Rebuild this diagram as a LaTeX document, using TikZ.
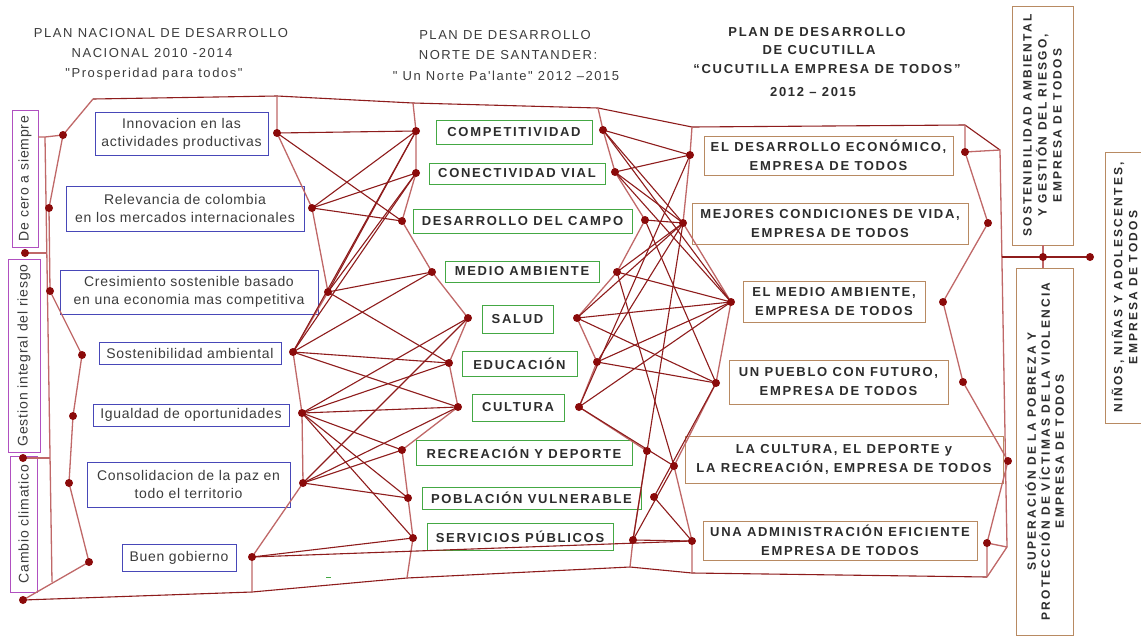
\documentclass[tikz,border=0pt]{standalone}
\usepackage{fontspec}
\setmainfont{Liberation Sans}
\newfontfamily\regsp[LetterSpace=5]{Liberation Sans}
\newfontfamily\purpsp[LetterSpace=6]{Liberation Sans}
\newfontfamily\titsp[LetterSpace=12]{Liberation Sans}
\newfontfamily\boldsp[LetterSpace=13]{Liberation Sans}
\newfontfamily\vertsp[LetterSpace=18]{Liberation Sans}
\definecolor{spinecol}{HTML}{C06868}
\definecolor{linkcol}{HTML}{8E1C1C}
\definecolor{dotcol}{HTML}{8B0A0A}
\definecolor{bluecol}{HTML}{4848B8}
\definecolor{greencol}{HTML}{44A844}
\definecolor{browncol}{HTML}{B88A62}
\definecolor{purpcol}{HTML}{B050C0}
\definecolor{txtgray}{HTML}{3C3C3C}
\definecolor{txtdark}{HTML}{2C2C2C}
\begin{document}
\begin{tikzpicture}[x=1pt,y=-1pt,
  spine/.style={draw=spinecol,line width=1.3pt,line join=round},
  link/.style={draw=linkcol,line width=1.1pt,line join=round},
  dot/.style={circle,fill=dotcol,inner sep=0pt,minimum size=8pt},
  bluebox/.style={draw=bluecol,line width=1pt,inner sep=0pt,align=center,text=txtgray,font=\regsp\fontsize{14}{18}\selectfont},
  purpbox/.style={draw=purpcol,line width=1pt,inner sep=0pt,align=center,text=txtgray,font=\purpsp\fontsize{14}{17}\selectfont,rotate=90},
  greenbox/.style={draw=greencol,line width=1pt,inner sep=0pt,align=center,text=txtdark,font=\boldsp\bfseries\fontsize{13}{16}\selectfont},
  brownbox/.style={draw=browncol,line width=1pt,inner sep=0pt,align=center,text=txtdark,font=\boldsp\bfseries\fontsize{13}{19}\selectfont},
  vertbox/.style={draw=browncol,line width=1pt,inner sep=0pt,align=center,text=txtdark,font=\vertsp\bfseries\fontsize{12}{15}\selectfont,rotate=90},
  verttext/.style={inner sep=0pt,align=center,text=txtdark,font=\vertsp\bfseries\fontsize{12}{15}\selectfont,rotate=90},
  titletext/.style={text=txtgray,inner sep=0pt,font=\titsp\fontsize{13}{16}\selectfont},
  titlebold/.style={text=txtdark,inner sep=0pt,font=\boldsp\bfseries\fontsize{13}{16}\selectfont}]
\useasboundingbox (0,0) rectangle (1141,635);
\fill[white] (0,0) rectangle (1141,635);
\begin{scope}
\clip (0,0) rectangle (1141,635);
% titles
\node[titletext] (t1a) at (161,33) {PLAN NACIONAL DE DESARROLLO};
\node[titletext] (t1b) at (152,53) {NACIONAL 2010 -2014};
\node[titletext] (t1c) at (154,74) {"Prosperidad para todos"};
\node[titletext] (t2a) at (505,35) {PLAN DE DESARROLLO};
\node[titletext] (t2b) at (508,55) {NORTE DE SANTANDER:};
\node[titletext] (t2c) at (506,76) {" Un Norte Pa'lante" 2012 –2015};
\node[titlebold] (t3a) at (817,32) {PLAN DE DESARROLLO};
\node[titlebold] (t3b) at (819,50) {DE CUCUTILLA};
\node[titlebold] (t3c) at (827,69) {“CUCUTILLA EMPRESA DE TODOS”};
\node[titlebold] (t3d) at (813,92) {2012 – 2015};
% purple boxes
\node[purpbox,minimum width=137pt,minimum height=26pt] (p1) at (25,178.5) {De cero a siempre};
\node[purpbox,minimum width=193pt,minimum height=32pt] (p2) at (24,355.5) {Gestion integral del riesgo};
\node[purpbox,minimum width=136pt,minimum height=27pt] (p3) at (23.5,524) {Cambio climatico};
% blue boxes
\node[bluebox,minimum width=173pt,minimum height=43pt] (nb1) at (181.5,133.5) {Innovacion en las\\actividades productivas};
\node[bluebox,minimum width=238pt,minimum height=45pt] (nb2) at (185,208.5) {Relevancia de colombia\\en los mercados internacionales};
\node[bluebox,minimum width=258pt,minimum height=44pt] (nb3) at (189,292) {Cresimiento sostenible basado\\en una economia mas competitiva};
\node[bluebox,minimum width=182pt,minimum height=22pt] (nb4) at (190,353) {Sostenibilidad ambiental};
\node[bluebox,minimum width=196pt,minimum height=22pt] (nb5) at (191,415) {Igualdad de oportunidades};
\node[bluebox,minimum width=203pt,minimum height=45pt] (nb6) at (188.5,484.5) {Consolidacion de la paz en\\todo el territorio};
\node[bluebox,minimum width=114pt,minimum height=27pt] (nb7) at (179,557.5) {Buen gobierno};
% green boxes
\node[greenbox,minimum width=156pt,minimum height=24pt] (g1) at (514,132) {COMPETITIVIDAD};
\node[greenbox,minimum width=176pt,minimum height=21pt] (g2) at (517,173.5) {CONECTIVIDAD VIAL};
\node[greenbox,minimum width=219pt,minimum height=24pt] (g3) at (522.5,221) {DESARROLLO DEL CAMPO};
\node[greenbox,minimum width=154pt,minimum height=21pt] (g4) at (522,271.5) {MEDIO AMBIENTE};
\node[greenbox,minimum width=71pt,minimum height=28pt] (g5) at (517.5,319) {SALUD};
\node[greenbox,minimum width=115pt,minimum height=25pt] (g6) at (519.5,363.5) {EDUCACIÓN};
\node[greenbox,minimum width=92pt,minimum height=27pt] (g7) at (518,407.5) {CULTURA};
\node[greenbox,minimum width=216pt,minimum height=25pt] (g8) at (524,452.5) {RECREACIÓN Y DEPORTE};
\node[greenbox,minimum width=219pt,minimum height=22pt] (g9) at (531.5,498) {POBLACIÓN VULNERABLE};
\node[greenbox,minimum width=186pt,minimum height=27pt] (g10) at (520,536.5) {SERVICIOS PÚBLICOS};
% brown boxes
\node[brownbox,minimum width=249pt,minimum height=39pt] (c1) at (828.5,155.5) {EL DESARROLLO ECONÓMICO,\\EMPRESA DE TODOS};
\node[brownbox,minimum width=276pt,minimum height=41pt] (c2) at (830,223.5) {MEJORES CONDICIONES DE VIDA,\\EMPRESA DE TODOS};
\node[brownbox,minimum width=182pt,minimum height=41pt] (c3) at (834,301.5) {EL MEDIO AMBIENTE,\\EMPRESA DE TODOS};
\node[brownbox,minimum width=219pt,minimum height=44pt] (c4) at (838.5,382) {UN PUEBLO CON FUTURO,\\EMPRESA DE TODOS};
\node[brownbox,minimum width=318pt,minimum height=47pt] (c5) at (844,459.5) {LA CULTURA, EL DEPORTE y\\LA RECREACIÓN, EMPRESA DE TODOS};
\node[brownbox,minimum width=274pt,minimum height=39pt] (c6) at (840,540.5) {UNA ADMINISTRACIÓN EFICIENTE\\EMPRESA DE TODOS};
% right vertical boxes
\node[vertbox,minimum width=239pt,minimum height=61pt] (r1) at (1042.5,125.5) {SOSTENIBILIDAD AMBIENTAL\\Y GESTIÓN DEL RIESGO,\\EMPRESA DE TODOS};
\node[vertbox,minimum width=367pt,minimum height=57pt,font=\vertsp\bfseries\fontsize{12}{14}\selectfont] (r2) at (1044.5,451.5) {SUPERACIÓN DE LA POBREZA Y\\PROTECCIÓN DE VÍCTIMAS DE LA VIOLENCIA\\EMPRESA DE TODOS};
\node[vertbox,minimum width=271pt,minimum height=47pt] (r3) at (1128.5,287.5) {};
\node[verttext] (r3t) at (1124.5,287.5) {NIÑOS, NIÑAS Y ADOLESCENTES,\\EMPRESA DE TODOS};
% coordinates
\coordinate (L0) at (93,99);
\coordinate (L1) at (63,135);
\coordinate (L2) at (49,208);
\coordinate (L3) at (50,291);
\coordinate (L4) at (82,355);
\coordinate (L5) at (73,416);
\coordinate (L6) at (69,483);
\coordinate (L7) at (89,562);
\coordinate (L8) at (23,600);
\coordinate (T1) at (277,96);
\coordinate (B1) at (277,133);
\coordinate (B2) at (312,208);
\coordinate (B3) at (328,292);
\coordinate (B4) at (293,352);
\coordinate (B5) at (302,413);
\coordinate (B6) at (303,483);
\coordinate (B7) at (252,557);
\coordinate (E1) at (252,592);
\coordinate (T2) at (413,103);
\coordinate (G1) at (416,131);
\coordinate (G2) at (416,173);
\coordinate (G3) at (402,221);
\coordinate (G4) at (432,272);
\coordinate (G5) at (468,318);
\coordinate (G6) at (449,363);
\coordinate (G7) at (458,407);
\coordinate (G8) at (402,450);
\coordinate (G9) at (408,498);
\coordinate (G10) at (413,538);
\coordinate (E2) at (407,578);
\coordinate (T3) at (598,108);
\coordinate (R1) at (603,130);
\coordinate (R2) at (615,172);
\coordinate (R3) at (645,220);
\coordinate (R4) at (617,272);
\coordinate (R5) at (577,318);
\coordinate (R6) at (597,362);
\coordinate (R7) at (579,407);
\coordinate (R8) at (647,451);
\coordinate (R9) at (654,497);
\coordinate (R10) at (633,540);
\coordinate (E3) at (630,567);
\coordinate (T4) at (692,127);
\coordinate (C1) at (690,155);
\coordinate (C2) at (683,223);
\coordinate (C3) at (731,302);
\coordinate (C4) at (716,383);
\coordinate (C5) at (674,466);
\coordinate (C6) at (692,541);
\coordinate (E4) at (692,573);
\coordinate (T5) at (965,125);
\coordinate (D1) at (965,152);
\coordinate (D2) at (988,223);
\coordinate (D3) at (943,302);
\coordinate (D4) at (963,382);
\coordinate (D5) at (1008,461);
\coordinate (D6) at (987,543);
\coordinate (E5) at (987,577);
\coordinate (V0) at (1000,150);
\coordinate (V1) at (1007,547);
\coordinate (VH) at (1002,257);
\coordinate (S1) at (1043,257);
\coordinate (S2) at (1090,257);
\coordinate (S1u) at (1043,245);
\coordinate (S1d) at (1043,268);
\coordinate (P0) at (38,137);
\coordinate (Q0) at (45,137);
\coordinate (Q1) at (52,582);
\coordinate (PA) at (25,253);
\coordinate (PAh) at (47,253);
\coordinate (PB) at (23,458);
\coordinate (PBh) at (50,458);
% contours
\draw[link] (L0) -- (T1) -- (T2) -- (T3) -- (T4) -- (T5) -- (V0);
\draw[link] (L8) -- (E1) -- (E2) -- (E3) -- (E4) -- (E5);
% spines
\draw[spine] (L0) -- (L1) -- (L2) -- (L3) -- (L4) -- (L5) -- (L6) -- (L7) -- (L8);
\draw[spine] (T1) -- (B1) -- (B2) -- (B3) -- (B4) -- (B5) -- (B6) -- (B7) -- (E1);
\draw[spine] (T2) -- (G1) -- (G2) -- (G3) -- (G4) -- (G5) -- (G6) -- (G7) -- (G8) -- (G9) -- (G10) -- (E2);
\draw[spine] (T3) -- (R1) -- (R2) -- (R3) -- (R4) -- (R5) -- (R6) -- (R7) -- (R8) -- (R10) -- (E3);
\draw[spine] (T4) -- (C1) -- (C2) -- (C3) -- (C4) -- (C5) -- (C6) -- (E4);
\draw[spine] (T5) -- (D1) -- (D2) -- (D3) -- (D4) -- (D5) -- (D6) -- (E5);
\draw[spine] (D1) -- (V0) -- (V1);
\draw[spine] (D6) -- (V1) -- (E5);
\draw[link] (VH) -- (S1) -- (S2);
\draw[spine] (S1u) -- (S1) -- (S1d);
\draw[spine] (P0) -- (Q0) -- (L1);
\draw[spine] (Q0) -- (Q1);
\draw[spine] (PA) -- (PAh);
\draw[spine] (PB) -- (PBh);
% cross links
\foreach \a/\b in {B1/G1,B1/G3,B2/G1,B2/G2,B2/G3,B3/G1,B3/G2,B3/G4,B3/G6,B4/G1,B4/G2,B4/G4,B4/G6,B4/G7,B5/G5,B5/G6,B5/G7,B5/G8,B5/G9,B5/G10,B6/G5,B6/G7,B6/G8,B6/G9,B7/G10,B7/C6,
  R1/C1,R1/C2,R1/C3,R2/C1,R2/C2,R2/C3,R3/C2,R3/C4,R4/C2,R4/C3,R4/C5,R5/C2,R5/C3,R5/C4,R6/C2,R6/C3,R6/C4,R7/C1,R7/C3,R7/C5,R9/C4,R9/C6,R10/C2,R10/C5,R10/C6}
  \draw[link] (\a) -- (\b);
% dots
\foreach \p in {L1,L2,L3,L4,L5,L6,L7,L8,PA,PB,B1,B2,B3,B4,B5,B6,B7,G1,G2,G3,G4,G5,G6,G7,G8,G9,G10,R1,R2,R3,R4,R5,R6,R7,R8,R9,R10,C1,C2,C3,C4,C5,C6,D1,D2,D3,D4,D5,D6,S1,S2}
  \node[dot] (d\p) at (\p) {};
\draw[greencol,line width=1pt] (326,577) -- (331,577);
\end{scope}
\end{tikzpicture}
\end{document}
